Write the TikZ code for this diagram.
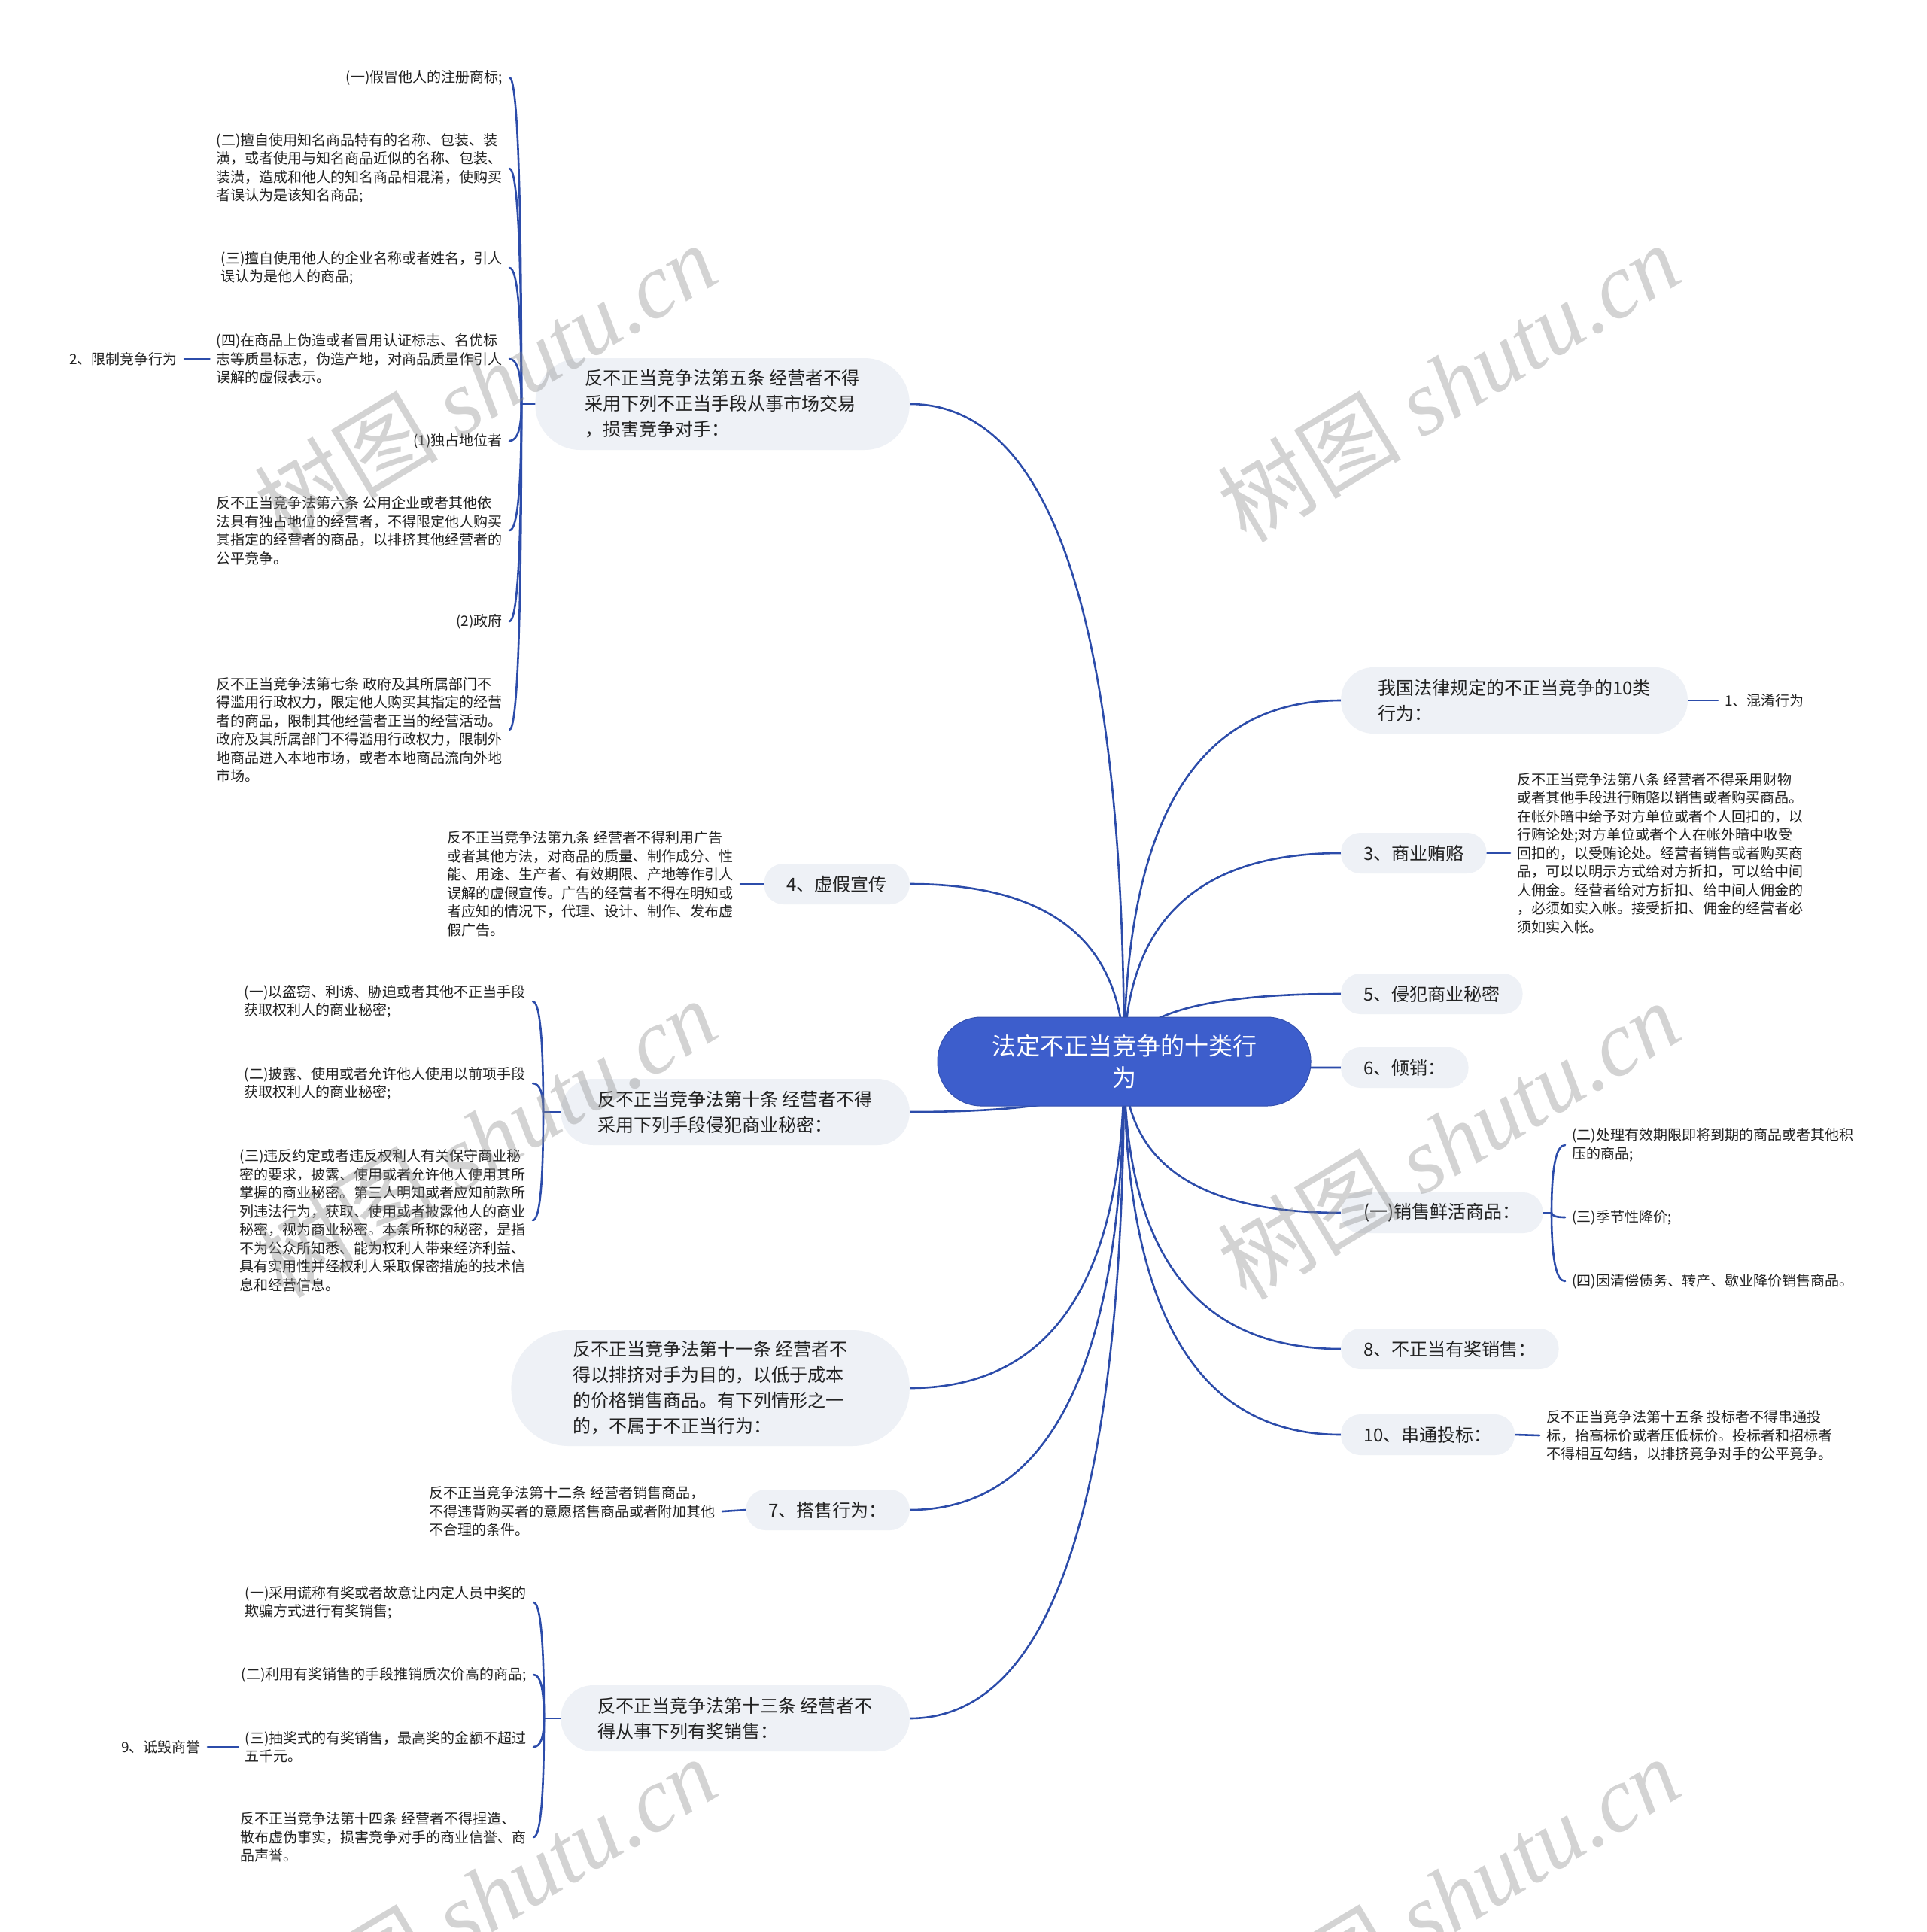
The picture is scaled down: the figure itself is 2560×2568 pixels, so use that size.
\documentclass[tikz,border=0pt]{standalone}
\usepackage{fontspec}
\setmainfont{Noto Sans CJK SC}
\newfontfamily\wmlatin{Liberation Serif}
\usetikzlibrary{calc}
\definecolor{connc}{RGB}{44,76,170}
\definecolor{rootc}{RGB}{61,94,204}
\definecolor{boxc}{RGB}{238,241,246}
\definecolor{txtc}{RGB}{34,34,34}
\definecolor{wmc}{RGB}{140,140,140}
\pgfdeclarelayer{bg}
\pgfsetlayers{bg,main}
\newcommand\qlink[2]{\draw[conn] (#1) .. controls ($(#1)!0.667!(#1|-#2)$) and ($(#2)!0.667!(#1|-#2)$) .. (#2);}
\begin{document}
\begin{tikzpicture}[x=1pt,y=-1pt,
 conn/.style={draw=connc, line width=2.6pt, line cap=round},
 mainbox/.style={fill=boxc, text=txtc, font={\fontsize{24pt}{34pt}\selectfont}, align=left, inner ysep=0pt},
 m1/.style={mainbox, minimum height=54pt, inner xsep=30pt, rounded corners=26pt},
 m2/.style={mainbox, minimum height=88pt, inner xsep=49pt, rounded corners=43pt},
 m3/.style={mainbox, minimum height=122pt, inner xsep=66pt, rounded corners=60pt},
 m4/.style={mainbox, minimum height=154pt, inner xsep=82pt, rounded corners=76pt},
 leaf/.style={text=txtc, font={\fontsize{19pt}{24.5pt}\selectfont}, align=left, inner xsep=9pt, inner ysep=2pt},
 lft/.style={anchor=east}, rgt/.style={anchor=west},
 wm/.style={text=wmc, text opacity=0.38, font={\fontsize{122pt}{122pt}\selectfont}, rotate=31, inner sep=0pt}
]
\useasboundingbox (0,0) rectangle (2560,2568);
\begin{pgfonlayer}{bg}
\fill[white] (0,0) rectangle (2560,2568);
\end{pgfonlayer}

% root
\node[fill=rootc, draw=rootc!85!black, line width=1pt, text=white, font={\fontsize{32pt}{42pt}\selectfont}, align=center, minimum width=496pt, minimum height=118pt, rounded corners=58pt, inner sep=0pt] (root) at (1494,1411) {法定不正当竞争的十类行\\为};

% left main nodes
\node[m3, lft] (n5) at (1209,537) {反不正当竞争法第五条 经营者不得\\采用下列不正当手段从事市场交易\\，损害竞争对手：};
\node[m1, lft] (n4) at (1209,1175) {4、虚假宣传};
\node[m2, lft] (n10) at (1209,1478) {反不正当竞争法第十条 经营者不得\\采用下列手段侵犯商业秘密：};
\node[m4, lft] (n11) at (1209,1845) {反不正当竞争法第十一条 经营者不\\得以排挤对手为目的，以低于成本\\的价格销售商品。有下列情形之一\\的，不属于不正当行为：};
\node[m1, lft] (n7) at (1209,2007) {7、搭售行为：};
\node[m2, lft] (n13) at (1209,2284) {反不正当竞争法第十三条 经营者不\\得从事下列有奖销售：};

% right main nodes
\node[m2, rgt] (r1) at (1782,931) {我国法律规定的不正当竞争的10类\\行为：};
\node[m1, rgt] (r3) at (1782,1134) {3、商业贿赂};
\node[m1, rgt] (r5) at (1782,1321) {5、侵犯商业秘密};
\node[m1, rgt] (r6) at (1782,1419) {6、倾销：};
\node[m1, rgt] (rf) at (1782,1612) {(一)销售鲜活商品：};
\node[m1, rgt] (r8) at (1782,1793) {8、不正当有奖销售：};
\node[m1, rgt] (r10) at (1782,1907) {10、串通投标：};

% leaves of n5
\coordinate (J5) at (693,537);
\node[leaf, lft] (a1) at (677,103) {(一)假冒他人的注册商标;};
\node[leaf, lft] (a2) at (677,224) {(二)擅自使用知名商品特有的名称、包装、装\\潢，或者使用与知名商品近似的名称、包装、\\装潢，造成和他人的知名商品相混淆，使购买\\者误认为是该知名商品;};
\node[leaf, lft] (a3) at (677,356) {(三)擅自使用他人的企业名称或者姓名，引人\\误认为是他人的商品;};
\node[leaf, lft] (a4) at (677,477) {(四)在商品上伪造或者冒用认证标志、名优标\\志等质量标志，伪造产地，对商品质量作引人\\误解的虚假表示。};
\node[leaf, lft] (lim) at (245,477) {2、限制竞争行为};
\node[leaf, lft] (a5) at (677,586) {(1)独占地位者};
\node[leaf, lft] (a6) at (677,705) {反不正当竞争法第六条 公用企业或者其他依\\法具有独占地位的经营者，不得限定他人购买\\其指定的经营者的商品，以排挤其他经营者的\\公平竞争。};
\node[leaf, lft] (a7) at (677,826) {(2)政府};
\node[leaf, lft] (a8) at (677,970) {反不正当竞争法第七条 政府及其所属部门不\\得滥用行政权力，限定他人购买其指定的经营\\者的商品，限制其他经营者正当的经营活动。\\政府及其所属部门不得滥用行政权力，限制外\\地商品进入本地市场，或者本地商品流向外地\\市场。};

% leaf of n4
\node[leaf, lft] (ad) at (984,1175) {反不正当竞争法第九条 经营者不得利用广告\\或者其他方法，对商品的质量、制作成分、性\\能、用途、生产者、有效期限、产地等作引人\\误解的虚假宣传。广告的经营者不得在明知或\\者应知的情况下，代理、设计、制作、发布虚\\假广告。};

% leaves of n10
\coordinate (J10) at (722,1478);
\node[leaf, lft] (b1) at (708,1331) {(一)以盗窃、利诱、胁迫或者其他不正当手段\\获取权利人的商业秘密;};
\node[leaf, lft] (b2) at (708,1440) {(二)披露、使用或者允许他人使用以前项手段\\获取权利人的商业秘密;};
\node[leaf, lft] (b3) at (708,1622) {(三)违反约定或者违反权利人有关保守商业秘\\密的要求，披露、使用或者允许他人使用其所\\掌握的商业秘密。第三人明知或者应知前款所\\列违法行为，获取、使用或者披露他人的商业\\秘密，视为商业秘密。本条所称的秘密，是指\\不为公众所知悉、能为权利人带来经济利益、\\具有实用性并经权利人采取保密措施的技术信\\息和经营信息。};

% leaf of n7
\node[leaf, lft] (tie) at (960,2009) {反不正当竞争法第十二条 经营者销售商品，\\不得违背购买者的意愿搭售商品或者附加其他\\不合理的条件。};

% leaves of n13
\coordinate (J13) at (723,2284);
\node[leaf, lft] (c1) at (709,2130) {(一)采用谎称有奖或者故意让内定人员中奖的\\欺骗方式进行有奖销售;};
\node[leaf, lft] (c2) at (709,2226) {(二)利用有奖销售的手段推销质次价高的商品;};
\node[leaf, lft] (c3) at (709,2322) {(三)抽奖式的有奖销售，最高奖的金额不超过\\五千元。};
\node[leaf, lft] (c4) at (709,2442) {反不正当竞争法第十四条 经营者不得捏造、\\散布虚伪事实，损害竞争对手的商业信誉、商\\品声誉。};
\node[leaf, lft] (def) at (276,2322) {9、诋毁商誉};

% right leaves
\node[leaf, rgt] (hun) at (2283,931) {1、混淆行为};
\node[leaf, rgt] (bri) at (2007,1134) {反不正当竞争法第八条 经营者不得采用财物\\或者其他手段进行贿赂以销售或者购买商品。\\在帐外暗中给予对方单位或者个人回扣的，以\\行贿论处;对方单位或者个人在帐外暗中收受\\回扣的，以受贿论处。经营者销售或者购买商\\品，可以以明示方式给对方折扣，可以给中间\\人佣金。经营者给对方折扣、给中间人佣金的\\，必须如实入帐。接受折扣、佣金的经营者必\\须如实入帐。};
\coordinate (Jf) at (2062,1612);
\node[leaf, rgt] (d1) at (2080,1522) {(二)处理有效期限即将到期的商品或者其他积\\压的商品;};
\node[leaf, rgt] (d2) at (2080,1618) {(三)季节性降价;};
\node[leaf, rgt] (d3) at (2080,1703) {(四)因清偿债务、转产、歇业降价销售商品。};
\node[leaf, rgt] (bid) at (2046,1908) {反不正当竞争法第十五条 投标者不得串通投\\标，抬高标价或者压低标价。投标者和招标者\\不得相互勾结，以排挤竞争对手的公平竞争。};

\begin{pgfonlayer}{bg}
% root connectors
\qlink{root.center}{n5.east}
\qlink{root.center}{n4.east}
\qlink{root.center}{n10.east}
\qlink{root.center}{n11.east}
\qlink{root.center}{n7.east}
\qlink{root.center}{n13.east}
\qlink{root.center}{r1.west}
\qlink{root.center}{r3.west}
\qlink{root.center}{r5.west}
\qlink{root.center}{r6.west}
\qlink{root.center}{rf.west}
\qlink{root.center}{r8.west}
\qlink{root.center}{r10.west}
% n5 bracket
\draw[conn] (n5.west) -- (J5);
\qlink{J5}{a1.east}
\qlink{J5}{a2.east}
\qlink{J5}{a3.east}
\qlink{J5}{a4.east}
\qlink{J5}{a5.east}
\qlink{J5}{a6.east}
\qlink{J5}{a7.east}
\qlink{J5}{a8.east}
\draw[conn] (a4.west) -- (lim.east);
\draw[conn] (n4.west) -- (ad.east);
% n10 bracket
\draw[conn] (n10.west) -- (J10);
\qlink{J10}{b1.east}
\qlink{J10}{b2.east}
\qlink{J10}{b3.east}
\draw[conn] (n7.west) -- (tie.east);
% n13 bracket
\draw[conn] (n13.west) -- (J13);
\qlink{J13}{c1.east}
\qlink{J13}{c2.east}
\qlink{J13}{c3.east}
\qlink{J13}{c4.east}
\draw[conn] (c3.west) -- (def.east);
% right
\draw[conn] (r1.east) -- (hun.west);
\draw[conn] (r3.east) -- (bri.west);
\draw[conn] (rf.east) -- (Jf);
\qlink{Jf}{d1.west}
\qlink{Jf}{d2.west}
\qlink{Jf}{d3.west}
\draw[conn] (r10.east) -- (bid.west);
\end{pgfonlayer}

% watermarks
\node[wm] at (645,508) {树图 {\wmlatin\itshape shutu.cn}};
\node[wm] at (1925,508) {树图 {\wmlatin\itshape shutu.cn}};
\node[wm] at (645,1512) {树图 {\wmlatin\itshape shutu.cn}};
\node[wm] at (1925,1515) {树图 {\wmlatin\itshape shutu.cn}};
\node[wm] at (645,2520) {树图 {\wmlatin\itshape shutu.cn}};
\node[wm] at (1925,2520) {树图 {\wmlatin\itshape shutu.cn}};
\end{tikzpicture}
\end{document}
